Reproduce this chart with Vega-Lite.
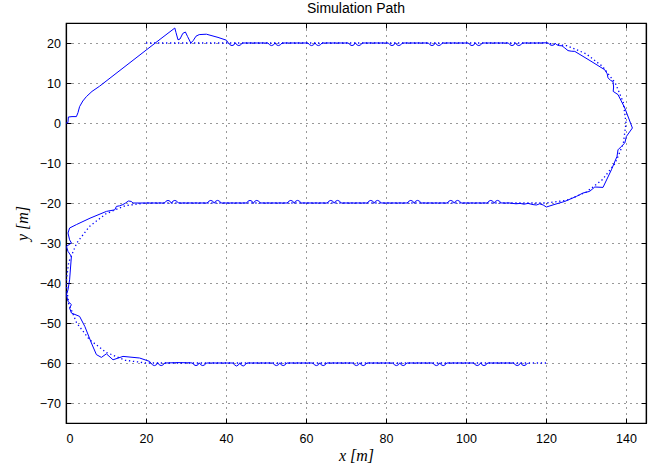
{
  "$schema": "https://vega.github.io/schema/vega-lite/v6.json",
  "width": 580,
  "height": 400,
  "autosize": {"type": "none"},
  "padding": {"left": 66, "top": 23, "right": 12, "bottom": 45},
  "background": "white",
  "title": {"text": "Simulation Path", "font": "Liberation Sans", "fontSize": 14, "fontWeight": "normal", "color": "black", "anchor": "middle", "offset": 7},
  "config": {
    "view": {"stroke": "black", "strokeWidth": 1.2},
    "axis": {"labelFont": "Liberation Sans", "labelFontSize": 12.5, "labelColor": "black", "tickColor": "black", "domainColor": "black", "domainWidth": 1.2, "tickSize": -5, "tickWidth": 1}
  },
  "datasets": {
    "ref": [
      {"x":20,"y":20},{"x":120,"y":20},{"x":125.18,"y":19.32},{"x":130,"y":17.32},{"x":134.14,"y":14.14},{"x":137.32,"y":10},{"x":139.32,"y":5.18},{"x":140,"y":0},{"x":139.32,"y":-5.18},{"x":137.32,"y":-10},{"x":134.14,"y":-14.14},{"x":130,"y":-17.32},{"x":125.18,"y":-19.32},{"x":120,"y":-20},
      {"x":20,"y":-20},{"x":14.82,"y":-20.68},{"x":10,"y":-22.68},{"x":5.86,"y":-25.86},{"x":2.68,"y":-30},{"x":0.68,"y":-34.82},{"x":0,"y":-40},{"x":0.68,"y":-45.18},{"x":2.68,"y":-50},{"x":5.86,"y":-54.14},{"x":10,"y":-57.32},{"x":14.82,"y":-59.32},{"x":20,"y":-60},{"x":120,"y":-60}
    ],
    "act": [
      {"x":0,"y":0},{"x":0.4,"y":0},{"x":0.5,"y":0.3},{"x":0.6,"y":1.5},{"x":1.5,"y":1.6},{"x":2.6,"y":1.6},{"x":3,"y":2.6},{"x":3.4,"y":4.1},{"x":4.2,"y":5.5},{"x":5.1,"y":6.6},{"x":6.5,"y":7.9},{"x":8.4,"y":9.2},{"x":12,"y":12},{"x":16,"y":15.1},{"x":20,"y":18.2},{"x":24,"y":21.3},{"x":26.5,"y":23.2},{"x":27.2,"y":23.75},{"x":27.5,"y":22.6},{"x":28,"y":20.8},{"x":28.5,"y":21},{"x":29.2,"y":22.4},{"x":29.85,"y":22.75},{"x":30.4,"y":21.6},{"x":31.2,"y":20},{"x":31.8,"y":20.6},{"x":32.5,"y":21.7},{"x":33.3,"y":22.1},{"x":35.1,"y":22.2},{"x":38,"y":21.4},{"x":40.1,"y":20.7},
      {"x":40.6,"y":20},{"x":41,"y":19.55},{"x":41.5,"y":19.35},{"x":42,"y":19.55},{"x":42.35,"y":20.05},{"x":42.7,"y":19.55},{"x":43.2,"y":19.35},{"x":43.7,"y":19.55},{"x":44.1,"y":20},
      {"x":50.5,"y":20},{"x":50.9,"y":19.55},{"x":51.4,"y":19.35},{"x":51.9,"y":19.55},{"x":52.25,"y":20.05},{"x":52.6,"y":19.55},{"x":53.1,"y":19.35},{"x":53.6,"y":19.55},{"x":54,"y":20},
      {"x":60.5,"y":20},{"x":60.9,"y":19.55},{"x":61.4,"y":19.35},{"x":61.9,"y":19.55},{"x":62.25,"y":20.05},{"x":62.6,"y":19.55},{"x":63.1,"y":19.35},{"x":63.6,"y":19.55},{"x":64,"y":20},
      {"x":70.6,"y":20},{"x":71,"y":19.55},{"x":71.5,"y":19.35},{"x":72,"y":19.55},{"x":72.35,"y":20.05},{"x":72.7,"y":19.55},{"x":73.2,"y":19.35},{"x":73.7,"y":19.55},{"x":74.1,"y":20},
      {"x":80.6,"y":20},{"x":81,"y":19.55},{"x":81.5,"y":19.35},{"x":82,"y":19.55},{"x":82.35,"y":20.05},{"x":82.7,"y":19.55},{"x":83.2,"y":19.35},{"x":83.7,"y":19.55},{"x":84.1,"y":20},
      {"x":90.6,"y":20},{"x":91,"y":19.55},{"x":91.5,"y":19.35},{"x":92,"y":19.55},{"x":92.35,"y":20.05},{"x":92.7,"y":19.55},{"x":93.2,"y":19.35},{"x":93.7,"y":19.55},{"x":94.1,"y":20},
      {"x":100.6,"y":20},{"x":101,"y":19.55},{"x":101.5,"y":19.35},{"x":102,"y":19.55},{"x":102.35,"y":20.05},{"x":102.7,"y":19.55},{"x":103.2,"y":19.35},{"x":103.7,"y":19.55},{"x":104.1,"y":20},
      {"x":110.6,"y":20},{"x":111,"y":19.55},{"x":111.5,"y":19.35},{"x":112,"y":19.55},{"x":112.35,"y":20.05},{"x":112.7,"y":19.55},{"x":113.2,"y":19.35},{"x":113.7,"y":19.55},{"x":114.1,"y":20},
      {"x":118,"y":20},{"x":120,"y":20.05},{"x":120.6,"y":20},{"x":121,"y":19.55},{"x":121.5,"y":19.4},{"x":122,"y":19.55},{"x":122.3,"y":19.95},{"x":122.7,"y":19.55},{"x":123.3,"y":19.35},{"x":124,"y":19.3},{"x":124.7,"y":18.75},{"x":125.5,"y":18.1},{"x":126.3,"y":17.95},{"x":127.2,"y":17.9},{"x":131,"y":15.6},{"x":134.7,"y":13.3},{"x":135.3,"y":12.3},{"x":135.5,"y":11.3},{"x":136.2,"y":10.6},{"x":136.75,"y":10.4},{"x":136.9,"y":9},{"x":136.8,"y":7.9},{"x":138,"y":7.1},{"x":139.7,"y":3.75},{"x":141.6,"y":-1.25},{"x":140.1,"y":-3.35},{"x":139.7,"y":-5},{"x":138.85,"y":-5.85},{"x":138,"y":-6.7},{"x":137.75,"y":-8.35},{"x":136.35,"y":-11.7},{"x":134.25,"y":-16.1},{"x":132.2,"y":-16},{"x":130.9,"y":-17.1},{"x":129.25,"y":-17.5},{"x":127.6,"y":-18.35},{"x":124.7,"y":-19.6},{"x":122,"y":-20.4},{"x":120.1,"y":-21},{"x":119.3,"y":-20.5},{"x":118.4,"y":-20.2},{"x":117.6,"y":-20.5},{"x":116.75,"y":-20.4},{"x":115.5,"y":-20.1},{"x":114.5,"y":-20.3},{"x":113.5,"y":-20.1},{"x":112.5,"y":-20.2},{"x":111,"y":-20},
      {"x":108.8,"y":-20},{"x":108.4,"y":-19.55},{"x":107.9,"y":-19.35},{"x":107.4,"y":-19.55},{"x":107.05,"y":-20.05},{"x":106.7,"y":-19.55},{"x":106.2,"y":-19.35},{"x":105.7,"y":-19.55},{"x":105.3,"y":-20},
      {"x":98.8,"y":-20},{"x":98.4,"y":-19.55},{"x":97.9,"y":-19.35},{"x":97.4,"y":-19.55},{"x":97.05,"y":-20.05},{"x":96.7,"y":-19.55},{"x":96.2,"y":-19.35},{"x":95.7,"y":-19.55},{"x":95.3,"y":-20},
      {"x":88.8,"y":-20},{"x":88.4,"y":-19.55},{"x":87.9,"y":-19.35},{"x":87.4,"y":-19.55},{"x":87.05,"y":-20.05},{"x":86.7,"y":-19.55},{"x":86.2,"y":-19.35},{"x":85.7,"y":-19.55},{"x":85.3,"y":-20},
      {"x":78.8,"y":-20},{"x":78.4,"y":-19.55},{"x":77.9,"y":-19.35},{"x":77.4,"y":-19.55},{"x":77.05,"y":-20.05},{"x":76.7,"y":-19.55},{"x":76.2,"y":-19.35},{"x":75.7,"y":-19.55},{"x":75.3,"y":-20},
      {"x":68.8,"y":-20},{"x":68.4,"y":-19.55},{"x":67.9,"y":-19.35},{"x":67.4,"y":-19.55},{"x":67.05,"y":-20.05},{"x":66.7,"y":-19.55},{"x":66.2,"y":-19.35},{"x":65.7,"y":-19.55},{"x":65.3,"y":-20},
      {"x":58.8,"y":-20},{"x":58.4,"y":-19.55},{"x":57.9,"y":-19.35},{"x":57.4,"y":-19.55},{"x":57.05,"y":-20.05},{"x":56.7,"y":-19.55},{"x":56.2,"y":-19.35},{"x":55.7,"y":-19.55},{"x":55.3,"y":-20},
      {"x":48.6,"y":-20},{"x":48.2,"y":-19.55},{"x":47.7,"y":-19.35},{"x":47.2,"y":-19.55},{"x":46.85,"y":-20.05},{"x":46.5,"y":-19.55},{"x":46,"y":-19.35},{"x":45.5,"y":-19.55},{"x":45.1,"y":-20},
      {"x":38.8,"y":-20},{"x":38.4,"y":-19.55},{"x":37.9,"y":-19.35},{"x":37.4,"y":-19.55},{"x":37.05,"y":-20.05},{"x":36.7,"y":-19.55},{"x":36.2,"y":-19.35},{"x":35.7,"y":-19.55},{"x":35.3,"y":-20},
      {"x":28.1,"y":-20},{"x":27.7,"y":-19.55},{"x":27.2,"y":-19.35},{"x":26.7,"y":-19.55},{"x":26.35,"y":-20.05},{"x":26,"y":-19.55},{"x":25.5,"y":-19.35},{"x":25,"y":-19.55},{"x":24.6,"y":-20},
      {"x":20,"y":-20},{"x":17.5,"y":-20},{"x":16.75,"y":-20},{"x":16.3,"y":-19.6},{"x":15.6,"y":-19.5},{"x":14.9,"y":-20},{"x":14.2,"y":-20.4},{"x":13.4,"y":-20.7},{"x":12.6,"y":-20.85},{"x":12.2,"y":-21.7},{"x":10.1,"y":-22.1},{"x":6,"y":-23.8},{"x":2.6,"y":-25.4},{"x":0.9,"y":-26.25},{"x":0.5,"y":-27.5},{"x":0.9,"y":-29.2},{"x":1.35,"y":-30},{"x":0.1,"y":-30.85},{"x":0.5,"y":-32.1},{"x":1.35,"y":-33.35},{"x":0.9,"y":-39.2},{"x":0.5,"y":-41.7},{"x":0.1,"y":-42.9},{"x":0.5,"y":-44.6},{"x":1.35,"y":-45.4},{"x":0.9,"y":-46.25},{"x":1.35,"y":-47.5},{"x":3.4,"y":-48.35},{"x":4.7,"y":-50.85},{"x":6.35,"y":-55},{"x":7.6,"y":-57.9},{"x":8.85,"y":-58.6},{"x":10.1,"y":-57.7},{"x":11.75,"y":-59.2},{"x":14.25,"y":-58.35},{"x":18.4,"y":-58.75},{"x":20.9,"y":-59.6},
      {"x":21.2,"y":-60},{"x":21.6,"y":-60.45},{"x":22.1,"y":-60.65},{"x":22.6,"y":-60.45},{"x":22.95,"y":-59.95},{"x":23.3,"y":-60.45},{"x":23.8,"y":-60.65},{"x":24.3,"y":-60.45},{"x":24.7,"y":-60},
      {"x":28,"y":-59.9},{"x":31,"y":-59.95},
      {"x":31.6,"y":-60},{"x":32,"y":-60.45},{"x":32.5,"y":-60.65},{"x":33,"y":-60.45},{"x":33.35,"y":-59.95},{"x":33.7,"y":-60.45},{"x":34.2,"y":-60.65},{"x":34.7,"y":-60.45},{"x":35.1,"y":-60},
      {"x":41.7,"y":-60},{"x":42.1,"y":-60.45},{"x":42.6,"y":-60.75},{"x":43.1,"y":-60.5},{"x":43.45,"y":-59.95},{"x":43.8,"y":-60.5},{"x":44.3,"y":-60.75},{"x":44.8,"y":-60.45},{"x":45.2,"y":-60},
      {"x":51.7,"y":-60},{"x":52.1,"y":-60.45},{"x":52.6,"y":-60.65},{"x":53.1,"y":-60.45},{"x":53.45,"y":-59.95},{"x":53.8,"y":-60.45},{"x":54.3,"y":-60.65},{"x":54.8,"y":-60.45},{"x":55.2,"y":-60},
      {"x":61.7,"y":-60},{"x":62.1,"y":-60.45},{"x":62.6,"y":-60.65},{"x":63.1,"y":-60.45},{"x":63.45,"y":-59.95},{"x":63.8,"y":-60.45},{"x":64.3,"y":-60.65},{"x":64.8,"y":-60.45},{"x":65.2,"y":-60},
      {"x":71.7,"y":-60},{"x":72.1,"y":-60.45},{"x":72.6,"y":-60.65},{"x":73.1,"y":-60.45},{"x":73.45,"y":-59.95},{"x":73.8,"y":-60.45},{"x":74.3,"y":-60.65},{"x":74.8,"y":-60.45},{"x":75.2,"y":-60},
      {"x":81.7,"y":-60},{"x":82.1,"y":-60.45},{"x":82.6,"y":-60.65},{"x":83.1,"y":-60.45},{"x":83.45,"y":-59.95},{"x":83.8,"y":-60.45},{"x":84.3,"y":-60.65},{"x":84.8,"y":-60.45},{"x":85.2,"y":-60},
      {"x":91.7,"y":-60},{"x":92.1,"y":-60.45},{"x":92.6,"y":-60.65},{"x":93.1,"y":-60.45},{"x":93.45,"y":-59.95},{"x":93.8,"y":-60.45},{"x":94.3,"y":-60.65},{"x":94.8,"y":-60.45},{"x":95.2,"y":-60},
      {"x":101.9,"y":-60},{"x":102.3,"y":-60.45},{"x":102.8,"y":-60.65},{"x":103.3,"y":-60.45},{"x":103.65,"y":-59.95},{"x":104,"y":-60.45},{"x":104.5,"y":-60.65},{"x":105,"y":-60.45},{"x":105.4,"y":-60},
      {"x":111.9,"y":-60},{"x":112.3,"y":-60.45},{"x":112.8,"y":-60.65},{"x":113.3,"y":-60.45},{"x":113.65,"y":-59.95},{"x":114,"y":-60.45},{"x":114.5,"y":-60.65},{"x":115,"y":-60.45},{"x":115.4,"y":-60}
    ]
  },
  "layer": [
    {
      "layer": [
        {
          "data": {"name": "ref"},
          "mark": {"type": "line", "color": "#0000ff", "strokeWidth": 1.3, "strokeDash": [1.3, 2.7], "clip": true},
          "encoding": {
            "x": {"field": "x", "type": "quantitative", "scale": {"domain": [0, 145], "nice": false, "zero": false},
                  "axis": {"orient": "bottom", "values": [0,20,40,60,80,100,120,140], "title": "x [m]", "titleFont": "Liberation Serif", "titleFontStyle": "italic", "titleFontWeight": "normal", "titleFontSize": 16, "titleColor": "black", "titlePadding": 3, "labelPadding": 14, "grid": true, "gridColor": "black", "gridDash": [1, 5], "gridOpacity": 0.8}},
            "y": {"field": "y", "type": "quantitative", "scale": {"domain": [-75, 25], "nice": false, "zero": false},
                  "axis": {"orient": "left", "values": [-70,-60,-50,-40,-30,-20,-10,0,10,20], "title": "y [m]", "titleFont": "Liberation Serif", "titleFontStyle": "italic", "titleFontWeight": "normal", "titleFontSize": 16, "titleColor": "black", "titlePadding": 9, "labelPadding": 10.5, "grid": true, "gridColor": "black", "gridDash": [1, 5], "gridOpacity": 0.8}},
            "order": {"value": null}
          }
        },
        {
          "data": {"name": "act"},
          "mark": {"type": "line", "color": "#0000ff", "strokeWidth": 1, "clip": true},
          "encoding": {
            "x": {"field": "x", "type": "quantitative"},
            "y": {"field": "y", "type": "quantitative"},
            "order": {"value": null}
          }
        }
      ]
    },
    {
      "data": {"name": "ref"},
      "mark": {"type": "line", "opacity": 0},
      "encoding": {
        "x": {"field": "x", "type": "quantitative", "scale": {"domain": [0, 145], "nice": false, "zero": false},
              "axis": {"orient": "top", "values": [0,20,40,60,80,100,120,140], "labels": false, "title": null, "grid": false}},
        "y": {"field": "y", "type": "quantitative", "scale": {"domain": [-75, 25], "nice": false, "zero": false},
              "axis": {"orient": "right", "values": [-70,-60,-50,-40,-30,-20,-10,0,10,20], "labels": false, "title": null, "grid": false}},
        "order": {"value": null}
      }
    }
  ],
  "resolve": {"scale": {"x": "independent", "y": "independent"}}
}
